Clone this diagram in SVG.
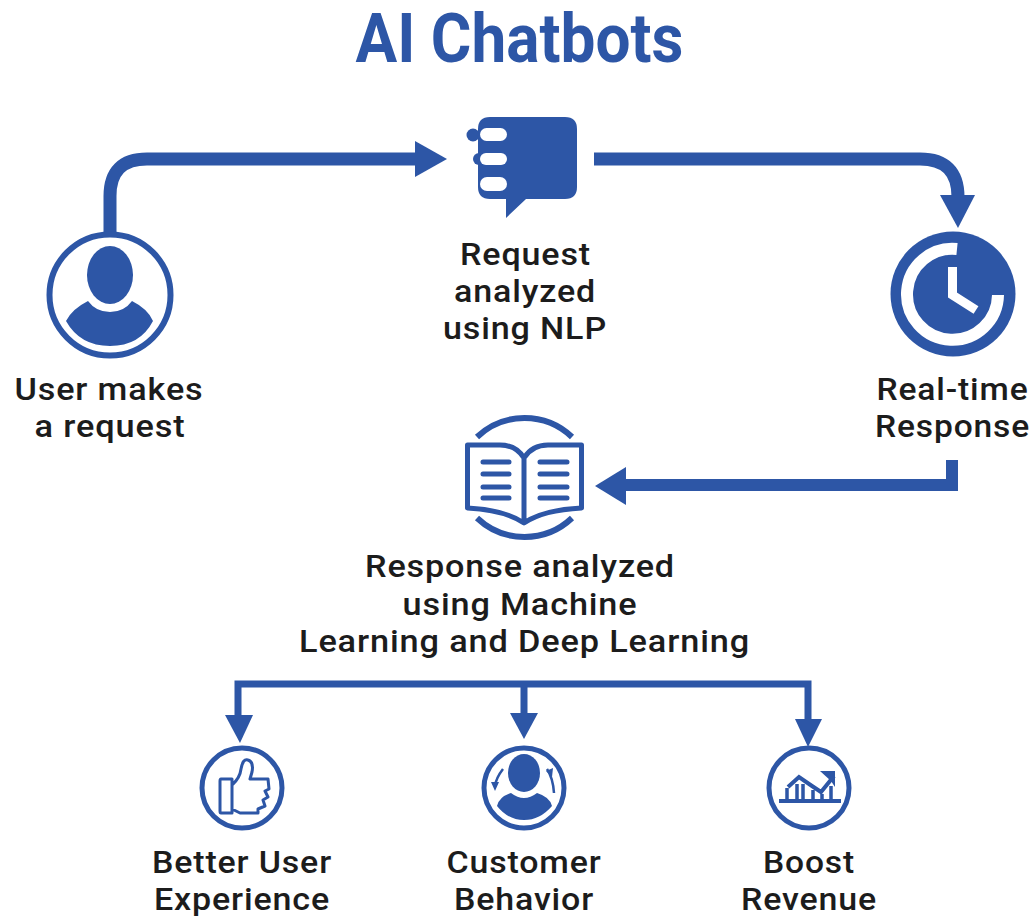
<svg xmlns="http://www.w3.org/2000/svg" width="1035" height="918" viewBox="0 0 1035 918">
<style>
.t{font-family:Roboto,"Liberation Sans",sans-serif;font-weight:500;font-size:32px;letter-spacing:0.8px;fill:#1c1c1c;text-anchor:middle}
.b{fill:#2d56a6}
.w{fill:#fff}
.s{fill:none;stroke:#2d56a6}
.wl{fill:none;stroke:#fff}
</style>
<rect width="1035" height="918" fill="#fff"/>
<text id="title" x="519.5" y="62" font-family="Roboto,'Liberation Sans',sans-serif" font-weight="700" font-size="68" fill="#2d56a6" text-anchor="middle" textLength="328" lengthAdjust="spacingAndGlyphs">AI Chatbots</text>
<g id="connectors">
<path class="s" stroke-width="13" d="M110 234V196Q110 159 147 159H417"/>
<path class="b" d="M415 141L447 159L415 177Z"/>
<path class="s" stroke-width="13" d="M594 159H920Q958 159 958 197"/>
<path class="b" d="M940 195H975L958 228Z"/>
<path class="s" stroke-width="12" d="M952 460V485H623"/>
<path class="b" d="M626 467V505L595 486Z"/>
<path class="s" stroke-width="7" d="M238 716V684H808V720M524 684V716"/>
<path class="b" d="M225 715H253L240 743Z"/>
<path class="b" d="M510 713H538L524 739Z"/>
<path class="b" d="M795 719H822L808 747Z"/>
</g>
<g id="user">
<circle class="s" cx="110" cy="295" r="60.5" stroke-width="6"/>
<ellipse class="b" cx="110" cy="275" rx="23" ry="29"/>
<path class="b" d="M88 301Q96 312 110 312Q124 312 132 301Q148 309 153 321Q140 346 110 346Q80 346 66 321Q72 309 88 301Z"/>
<text class="t" x="109" y="400" textLength="189" lengthAdjust="spacingAndGlyphs">User makes</text>
<text class="t" x="110" y="437" textLength="151" lengthAdjust="spacingAndGlyphs">a request</text>
</g>
<g id="request">
<circle class="b" cx="473" cy="135" r="6.500"/>
<circle class="b" cx="479" cy="159" r="6"/>
<path class="b" d="M490 117H565Q577 117 577 129V187Q577 199 565 199H526L506 218V199H490Q478 199 478 187V129Q478 117 490 117Z"/>
<rect class="w" x="480" y="128" width="27" height="13" rx="6.500"/>
<rect class="w" x="480" y="153" width="27" height="12" rx="6"/>
<rect class="w" x="480" y="177" width="27" height="14" rx="7"/>
<text class="t" x="525.500" y="265" textLength="131" lengthAdjust="spacingAndGlyphs">Request</text>
<text class="t" x="525" y="302" textLength="142" lengthAdjust="spacingAndGlyphs">analyzed</text>
<text class="t" x="525" y="339" textLength="164" lengthAdjust="spacingAndGlyphs">using NLP</text>
</g>
<g id="response">
<circle class="b" cx="953" cy="294" r="62.500"/>
<path class="wl" stroke-width="12" d="M957 249A45.500 45.500 0 1 0 998 295"/>
<path class="wl" stroke-width="9" stroke-linejoin="miter" d="M952.500 267V295L976 310"/>
<text class="t" x="952.500" y="400" textLength="152" lengthAdjust="spacingAndGlyphs">Real-time</text>
<text class="t" x="952.500" y="437" textLength="155" lengthAdjust="spacingAndGlyphs">Response</text>
</g>
<g id="analysis">
<path class="s" stroke-width="6" d="M477 437A69 69 0 0 1 572 437M477 518A69 69 0 0 0 572 518"/>
<path class="s" stroke-width="5" stroke-linejoin="round" d="M524 458Q516 445 500 445H467.500V508Q505 510 524 523Q543 510 581.500 508V445H548Q532 445 524 458V522"/>
<path class="s" stroke-width="5" stroke-linecap="round" d="M483 462H509M483 474H509M483 487H509M483 498H509M540 462H567M540 474H567M540 487H567M540 498H567"/>
<text class="t" x="520" y="577" textLength="310" lengthAdjust="spacingAndGlyphs">Response analyzed</text>
<text class="t" x="520" y="615" textLength="235" lengthAdjust="spacingAndGlyphs">using Machine</text>
<text class="t" x="524.500" y="652" textLength="451" lengthAdjust="spacingAndGlyphs">Learning and Deep Learning</text>
</g>
<g id="better">
<circle class="s" cx="242" cy="788" r="40" stroke-width="5"/>
<path class="s" stroke-width="3" stroke-linejoin="round" d="M221 779H232V813H221Q220 813 220 811V781Q220 779 221 779ZM232 785Q240 778 241 769Q243 758 248 760Q254 762 252 772L250 779H268L269 789L265 791L268 797L263 800L265 806L258 809L258 813H240Q236 811 232 809"/>
<text class="t" x="242" y="873" textLength="180" lengthAdjust="spacingAndGlyphs">Better User</text>
<text class="t" x="242" y="910" textLength="176" lengthAdjust="spacingAndGlyphs">Experience</text>
</g>
<g id="behavior">
<circle class="s" cx="524" cy="788" r="40" stroke-width="5"/>
<ellipse class="b" cx="524" cy="773" rx="16" ry="19"/>
<path class="b" d="M511 793Q524 803 537 793Q550 797 552 806Q540 820 524 820Q508 820 497 806Q499 797 511 793Z"/>
<path class="s" stroke-width="2.500" d="M503 769Q496 778 495 786M547 769Q553 778 554 793"/>
<path class="b" d="M491 782H499L495 791ZM546 771L553 768L552 777Z"/>
<text class="t" x="524" y="873" textLength="155" lengthAdjust="spacingAndGlyphs">Customer</text>
<text class="t" x="524" y="910" textLength="140" lengthAdjust="spacingAndGlyphs">Behavior</text>
</g>
<g id="revenue">
<circle class="s" cx="809" cy="788" r="40" stroke-width="5"/>
<path class="s" stroke-width="4" d="M779 801H841"/>
<path class="s" stroke-width="4" d="M788 787L799 777L812 786L821 792L834 776"/>
<path class="b" d="M820 771H835V787L831 781Z"/>
<path class="s" stroke-width="3.500" d="M787 788V800M797 784V800M803 784V800M813 790V800M822 794V800M831 786V800"/>
<text class="t" x="809" y="873" textLength="92" lengthAdjust="spacingAndGlyphs">Boost</text>
<text class="t" x="809" y="910" textLength="136" lengthAdjust="spacingAndGlyphs">Revenue</text>
</g>
</svg>
